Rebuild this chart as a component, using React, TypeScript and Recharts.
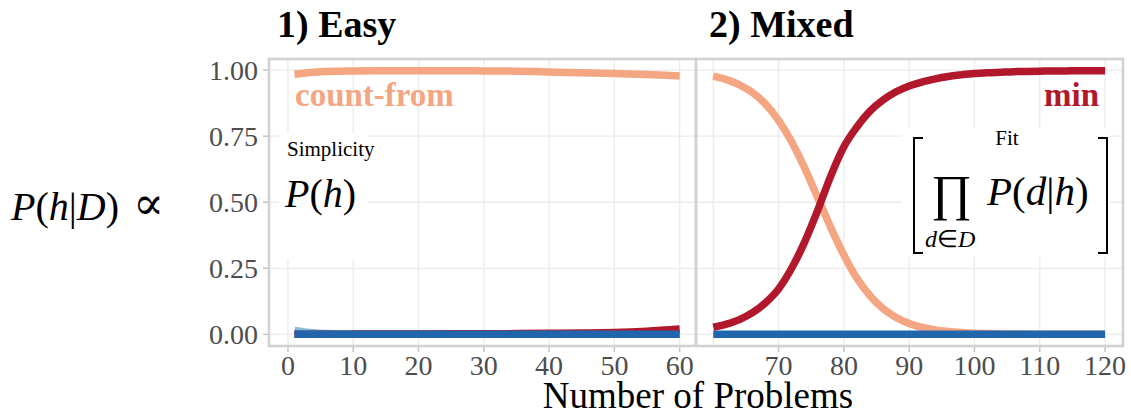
import React from "react";
import {
  CartesianGrid,
  Line,
  LineChart,
  ReferenceLine,
  XAxis,
  YAxis,
} from "recharts";

// 1) Easy panel
const leftProblems = [1, 2, 3, 4, 5, 6, 8, 10, 15, 20, 25, 30, 35, 40, 45, 50, 55, 60];
const leftCountFrom = [0.984, 0.987, 0.99, 0.992, 0.994, 0.995, 0.996, 0.997, 0.998, 0.998, 0.998, 0.997, 0.996, 0.993, 0.99, 0.987, 0.983, 0.978];
const leftMin = [0, 0, 0, 0, 0, 0, 0, 0.001, 0.001, 0.001, 0.002, 0.002, 0.003, 0.004, 0.005, 0.007, 0.012, 0.02];
const leftOther = [0.015, 0.011, 0.008, 0.006, 0.004, 0.003, 0.0015, 0.0005, 0, 0, 0, 0, 0, 0, 0, 0, 0, 0];
const leftBlue = [0, 0, 0, 0, 0, 0, 0, 0, 0, 0, 0, 0, 0, 0, 0, 0, 0, 0];

// 2) Mixed panel
const rightProblems = [60, 62, 64, 66, 68, 70, 72, 74, 76, 78, 80, 82, 84, 86, 88, 90, 92, 94, 96, 98, 100, 102, 104, 106, 108, 110, 112, 114, 116, 118, 120];
const rightCountFrom = [0.977, 0.964, 0.944, 0.915, 0.871, 0.81, 0.729, 0.629, 0.517, 0.404, 0.3, 0.212, 0.146, 0.097, 0.064, 0.041, 0.026, 0.017, 0.011, 0.007, 0.004, 0.003, 0.002, 0.001, 0.001, 0, 0, 0, 0, 0, 0];
const rightMin = [0.027, 0.039, 0.056, 0.082, 0.12, 0.172, 0.25, 0.35, 0.47, 0.6, 0.71, 0.785, 0.845, 0.887, 0.918, 0.94, 0.955, 0.967, 0.976, 0.982, 0.987, 0.99, 0.992, 0.994, 0.995, 0.996, 0.997, 0.997, 0.998, 0.998, 0.998];
const rightBlue = [0, 0, 0, 0, 0, 0, 0, 0, 0, 0, 0, 0, 0, 0, 0, 0, 0, 0, 0, 0, 0, 0, 0, 0, 0, 0, 0, 0, 0, 0, 0];

const yTicks = [0, 0.25, 0.5, 0.75, 1];
const leftTicks = [0, 10, 20, 30, 40, 50, 60];
const rightTicks = [70, 80, 90, 100, 110, 120];

const leftData = leftProblems.map((n, i) => ({
  n,
  other: leftOther[i],
  countFrom: leftCountFrom[i],
  min: leftMin[i],
  blue: leftBlue[i],
}));
const rightData = rightProblems.map((n, i) => ({
  n,
  countFrom: rightCountFrom[i],
  min: rightMin[i],
  blue: rightBlue[i],
}));

const SERIF = "Liberation Serif";

const SALMON = "#f4a582";
const RED = "#b2182b";
const BLUE = "#2166ac";
const LIGHT_BLUE = "#86bcdc";
const GRID = "#ebebeb";
const FRAME = "#d2d2d2";

const tickStyle = { fill: "#4d4d4d", fontSize: 28, fontFamily: SERIF };
const tickLine = { stroke: "#c4c4c4", strokeWidth: 1.5 };
const yDomain: [number, number] = [-0.044, 1.042];

const lineProps = {
  type: "monotone" as const,
  dot: false,
  strokeWidth: 7.5,
  isAnimationActive: false,
};

export default function App() {
  return (
    <div
      style={{
        position: "absolute",
        left: 0,
        top: 0,
        width: 1131,
        height: 416,
        background: "#fff",
      }}
    >
      <div style={{ position: "absolute", left: 0, top: 0 }}>
        <LineChart
          width={1131}
          height={416}
          data={leftData}
          margin={{ top: 59, right: 435, bottom: 30, left: 199 }}
        >
          <CartesianGrid stroke={GRID} strokeWidth={1.3} />
          <XAxis
            type="number"
            dataKey="n"
            domain={[-2.9, 62.5]}
            allowDataOverflow
            ticks={leftTicks}
            height={40}
            axisLine={false}
            tickLine={tickLine}
            tickSize={6}
            tickMargin={3}
            tick={tickStyle}
          />
          <YAxis
            type="number"
            domain={yDomain}
            allowDataOverflow
            ticks={yTicks}
            width={70}
            axisLine={false}
            tickLine={tickLine}
            tickSize={6}
            tickMargin={5}
            tick={tickStyle}
            tickFormatter={(v: number) => v.toFixed(2)}
          />
          <Line dataKey="other" stroke={LIGHT_BLUE} {...lineProps} />
          <Line dataKey="countFrom" stroke={SALMON} {...lineProps} />
          <Line dataKey="min" stroke={RED} {...lineProps} />
          <Line dataKey="blue" stroke={BLUE} {...lineProps} />
        </LineChart>
      </div>

      <div style={{ position: "absolute", left: 0, top: 0 }}>
        <LineChart
          width={1131}
          height={416}
          data={rightData}
          margin={{ top: 59, right: 8, bottom: 30, left: 696 }}
        >
          <CartesianGrid stroke={GRID} strokeWidth={1.3} />
          <ReferenceLine x={60} stroke={GRID} strokeWidth={1.3} />
          <XAxis
            type="number"
            dataKey="n"
            domain={[57.35, 122.75]}
            allowDataOverflow
            ticks={rightTicks}
            height={40}
            axisLine={false}
            tickLine={tickLine}
            tickSize={6}
            tickMargin={3}
            tick={tickStyle}
          />
          <YAxis type="number" domain={yDomain} allowDataOverflow ticks={yTicks} hide />
          <Line dataKey="countFrom" stroke={SALMON} {...lineProps} />
          <Line dataKey="min" stroke={RED} {...lineProps} />
          <Line dataKey="blue" stroke={BLUE} {...lineProps} />
        </LineChart>
      </div>

      <svg
        width={1131}
        height={416}
        style={{ position: "absolute", left: 0, top: 0, pointerEvents: "none" }}
        fontFamily={SERIF}
      >
        {/* label backgrounds */}
        <rect x={279} y={133} width={89} height={127} fill="#fff" />
        <rect x={902} y={128} width={208} height={129} fill="#fff" />

        {/* panel frames */}
        <rect x={269} y={59} width={427} height={287} fill="none" stroke={FRAME} strokeWidth={2.6} />
        <rect x={696} y={59} width={427} height={287} fill="none" stroke={FRAME} strokeWidth={2.6} />

        <text x={277} y={37} fontSize={38} fontWeight="bold" fill="#000">1) Easy</text>
        <text x={709} y={37} fontSize={38} fontWeight="bold" fill="#000">2) Mixed</text>

        <text x={295} y={106} fontSize={33} fontWeight="bold" fill={SALMON}>count-from</text>
        <text x={1099} y={106} fontSize={33} fontWeight="bold" fill={RED} textAnchor="end">min</text>

        <text x={11} y={220} fontSize={40} fill="#000">
          <tspan fontStyle="italic">P</tspan>(<tspan fontStyle="italic">h</tspan>|<tspan fontStyle="italic">D</tspan>)
        </text>
        <text x={133} y={219} fontSize={46} fill="#000" fontFamily="DejaVu Serif">∝</text>

        <text x={287} y={156} fontSize={21} fill="#000">Simplicity</text>
        <text x={285} y={207} fontSize={40} fill="#000">
          <tspan fontStyle="italic">P</tspan>(<tspan fontStyle="italic">h</tspan>)
        </text>

        <text x={1007} y={145} fontSize={21} fill="#000" textAnchor="middle">Fit</text>
        <path d="M923 138 H914 V253 H923" fill="none" stroke="#000" strokeWidth={2} />
        <path d="M1098 138 H1107 V253 H1098" fill="none" stroke="#000" strokeWidth={2} />
        <text x={931} y={210} fontSize={50} fill="#000">∏</text>
        <text x={925} y={247} fontSize={24} fill="#000">
          <tspan fontStyle="italic">d</tspan>∈<tspan fontStyle="italic">D</tspan>
        </text>
        <text x={987} y={205} fontSize={41} fill="#000">
          <tspan fontStyle="italic">P</tspan>(<tspan fontStyle="italic">d</tspan>|<tspan fontStyle="italic">h</tspan>)
        </text>

        <text x={698} y={408} fontSize={37} fill="#000" textAnchor="middle">Number of Problems</text>
      </svg>
    </div>
  );
}
